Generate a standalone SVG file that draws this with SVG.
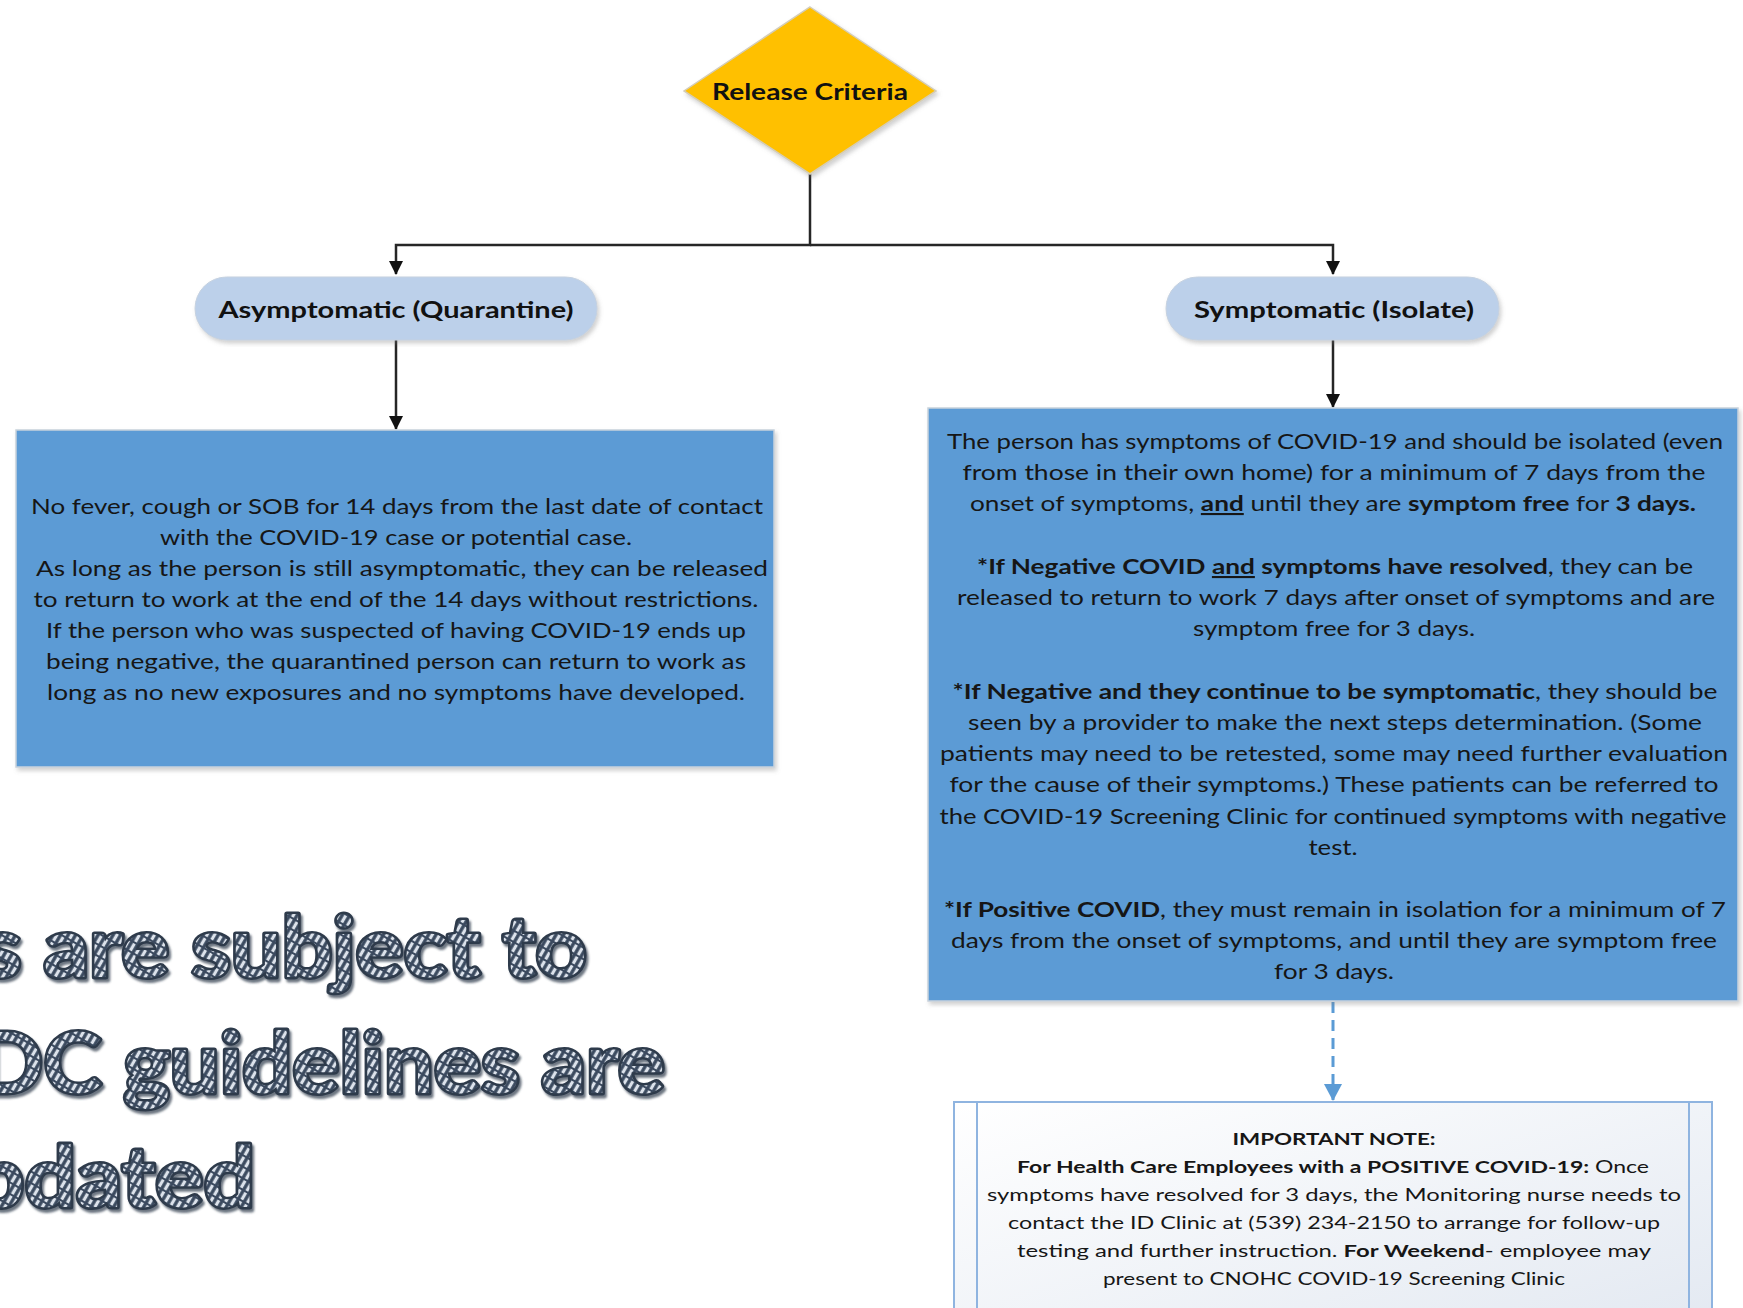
<svg xmlns="http://www.w3.org/2000/svg" width="1743" height="1308" viewBox="0 0 1743 1308">
  <defs>
    <style>
      .txt{font-family:Lato,"Liberation Sans",sans-serif;font-size:21px;fill:#161616}
      .note{font-size:17px}
      .b{font-weight:bold}
      .u{text-decoration:underline}
      .label{font-family:Lato,"Liberation Sans",sans-serif;font-weight:bold;font-size:23px;fill:#111111}
      .wire{fill:none;stroke:#262626;stroke-width:2.5}
      .dash{fill:none;stroke:#5B9BD5;stroke-width:3;stroke-dasharray:11 7}
      .box{fill:#5B9BD5;stroke:#C8D2DC;stroke-width:1.5}
      .pill{fill:#BCD0EA;stroke:#C5D1E0;stroke-width:1}
      .banner{font-family:Lato,"Liberation Sans",sans-serif;font-weight:bold;font-size:84px;fill:url(#weave);stroke:#2E3A4B;stroke-width:5;paint-order:stroke fill;stroke-linejoin:round}
    </style>
    <marker id="arrow" viewBox="0 0 14 14" refX="13" refY="7" markerWidth="14" markerHeight="14" markerUnits="userSpaceOnUse" orient="auto">
      <path d="M0,0 L14,7 L0,14 z" fill="#111111"/>
    </marker>
    <marker id="arrowBlue" viewBox="0 0 17 18" refX="16" refY="9" markerWidth="17" markerHeight="18" markerUnits="userSpaceOnUse" orient="auto">
      <path d="M0,0 L17,9 L0,18 z" fill="#5B9BD5"/>
    </marker>
    <!-- woven diagonal fill for the banner lettering -->
    <pattern id="weave" width="6.5" height="10" patternUnits="userSpaceOnUse" patternTransform="rotate(30)">
      <rect width="6.5" height="10" fill="#3A4A5E"/>
      <rect x="1.6" y="0" width="3.2" height="8" fill="#DCE2EB"/>
    </pattern>
    <linearGradient id="noteFill" x1="0" y1="0" x2="1" y2="1">
      <stop offset="0" stop-color="#FFFFFF"/>
      <stop offset="1" stop-color="#E2E8F1"/>
    </linearGradient>
    <filter id="shadow" x="-5%" y="-5%" width="112%" height="115%">
      <feDropShadow dx="2" dy="3" stdDeviation="2" flood-color="#7A7A7A" flood-opacity="0.35"/>
    </filter>
    <filter id="bannerShadow" x="-5%" y="-10%" width="110%" height="130%">
      <feDropShadow dx="2" dy="3" stdDeviation="1.2" flood-color="#2E3A4B" flood-opacity="0.7"/>
    </filter>
  </defs>

  <rect width="1743" height="1308" fill="#FFFFFF"/>

  <!-- connectors -->
  <g id="connectors">
    <path class="wire" d="M810,174 V245 H396 V274" marker-end="url(#arrow)"/>
    <path class="wire" d="M810,245 H1333 V274" marker-end="url(#arrow)"/>
    <path class="wire" d="M396,340 V429" marker-end="url(#arrow)"/>
    <path class="wire" d="M1333,340 V407" marker-end="url(#arrow)"/>
    <path class="dash" d="M1333,1002 V1100" marker-end="url(#arrowBlue)"/>
  </g>

  <!-- decision: release criteria -->
  <g id="release-criteria">
    <polygon points="810,7 936,91 810,174 684,91" fill="#FFC000" stroke="#D4CDB8" stroke-width="1.5" filter="url(#shadow)"/>
    <text class="label" x="810" y="100" text-anchor="middle" font-size="24" textLength="196" lengthAdjust="spacingAndGlyphs">Release Criteria</text>
  </g>

  <!-- branch: asymptomatic -->
  <g id="asymptomatic">
    <rect class="pill" x="195" y="277" width="402" height="63" rx="31.5" filter="url(#shadow)"/>
    <text class="label" x="396" y="318" text-anchor="middle" textLength="355" lengthAdjust="spacingAndGlyphs">Asymptomatic (Quarantine)</text>
  </g>

  <!-- branch: symptomatic -->
  <g id="symptomatic">
    <rect class="pill" x="1166" y="277" width="333" height="63" rx="31.5" filter="url(#shadow)"/>
    <text class="label" x="1334" y="318" text-anchor="middle" textLength="280" lengthAdjust="spacingAndGlyphs">Symptomatic (Isolate)</text>
  </g>

  <!-- quarantine release rule -->
  <g id="quarantine-rule">
    <rect class="box" x="16" y="430" width="758" height="337" filter="url(#shadow)"/>
    <g class="txt" text-anchor="middle">
      <text x="397" y="514" textLength="732" lengthAdjust="spacingAndGlyphs">No fever, cough or SOB for 14 days from the last date of contact</text>
      <text x="396" y="545" textLength="472" lengthAdjust="spacingAndGlyphs">with the COVID-19 case or potential case.</text>
      <text x="402" y="576" textLength="732" lengthAdjust="spacingAndGlyphs">As long as the person is still asymptomatic, they can be released</text>
      <text x="396" y="607" textLength="725" lengthAdjust="spacingAndGlyphs">to return to work at the end of the 14 days without restrictions.</text>
      <text x="396" y="638" textLength="700" lengthAdjust="spacingAndGlyphs">If the person who was suspected of having COVID-19 ends up</text>
      <text x="396" y="669" textLength="700" lengthAdjust="spacingAndGlyphs">being negative, the quarantined person can return to work as</text>
      <text x="396" y="700" textLength="698" lengthAdjust="spacingAndGlyphs">long as no new exposures and no symptoms have developed.</text>
    </g>
  </g>

  <!-- isolation release rule -->
  <g id="isolation-rule">
    <rect class="box" x="928" y="408" width="810" height="593" filter="url(#shadow)"/>
    <g class="txt" text-anchor="middle">
      <text x="1335" y="449" textLength="776" lengthAdjust="spacingAndGlyphs">The person has symptoms of COVID-19 and should be isolated (even</text>
      <text x="1334" y="480" textLength="743" lengthAdjust="spacingAndGlyphs">from those in their own home) for a minimum of 7 days from the</text>
      <text x="1333" y="511" textLength="726" lengthAdjust="spacingAndGlyphs">onset of symptoms, <tspan class="b u">and</tspan> until they are <tspan class="b">symptom free</tspan> for <tspan class="b">3 days.</tspan></text>

      <text x="1335" y="574" textLength="716" lengthAdjust="spacingAndGlyphs"><tspan class="b">*If Negative COVID </tspan><tspan class="b u">and</tspan><tspan class="b"> symptoms have resolved</tspan>, they can be</text>
      <text x="1336" y="605" textLength="758" lengthAdjust="spacingAndGlyphs">released to return to work 7 days after onset of symptoms and are</text>
      <text x="1334" y="636" textLength="282" lengthAdjust="spacingAndGlyphs">symptom free for 3 days.</text>

      <text x="1335" y="699" textLength="765" lengthAdjust="spacingAndGlyphs"><tspan class="b">*If Negative and they continue to be symptomatic</tspan>, they should be</text>
      <text x="1335" y="730" textLength="734" lengthAdjust="spacingAndGlyphs">seen by a provider to make the next steps determination. (Some</text>
      <text x="1334" y="761" textLength="788" lengthAdjust="spacingAndGlyphs">patients may need to be retested, some may need further evaluation</text>
      <text x="1334" y="792" textLength="769" lengthAdjust="spacingAndGlyphs">for the cause of their symptoms.) These patients can be referred to</text>
      <text x="1333" y="824" textLength="787" lengthAdjust="spacingAndGlyphs">the COVID-19 Screening Clinic for continued symptoms with negative</text>
      <text x="1333" y="855" textLength="49" lengthAdjust="spacingAndGlyphs">test.</text>

      <text x="1335" y="917" textLength="782" lengthAdjust="spacingAndGlyphs"><tspan class="b">*If Positive COVID</tspan>, they must remain in isolation for a minimum of 7</text>
      <text x="1334" y="948" textLength="766" lengthAdjust="spacingAndGlyphs">days from the onset of symptoms, and until they are symptom free</text>
      <text x="1334" y="979" textLength="120" lengthAdjust="spacingAndGlyphs">for 3 days.</text>
    </g>
  </g>

  <!-- note for health care employees -->
  <g id="important-note">
    <rect x="954" y="1102" width="758" height="240" fill="url(#noteFill)" stroke="#8FB4E0" stroke-width="2"/>
    <line x1="977" y1="1102" x2="977" y2="1342" stroke="#8FB4E0" stroke-width="2"/>
    <line x1="1689" y1="1102" x2="1689" y2="1342" stroke="#8FB4E0" stroke-width="2"/>
    <g class="txt note" text-anchor="middle">
      <text class="b" x="1334" y="1145" textLength="203" lengthAdjust="spacingAndGlyphs">IMPORTANT NOTE:</text>
      <text x="1333" y="1173" textLength="632" lengthAdjust="spacingAndGlyphs"><tspan class="b">For Health Care Employees with a POSITIVE COVID-19:</tspan> Once</text>
      <text x="1334" y="1201" textLength="694" lengthAdjust="spacingAndGlyphs">symptoms have resolved for 3 days, the Monitoring nurse needs to</text>
      <text x="1334" y="1229" textLength="652" lengthAdjust="spacingAndGlyphs">contact the ID Clinic at (539) 234-2150 to arrange for follow-up</text>
      <text x="1334" y="1257" textLength="634" lengthAdjust="spacingAndGlyphs">testing and further instruction. <tspan class="b">For Weekend</tspan>- employee may</text>
      <text x="1334" y="1285" textLength="462" lengthAdjust="spacingAndGlyphs">present to CNOHC COVID-19 Screening Clinic</text>
    </g>
  </g>

  <!-- banner text running off the left edge -->
  <g id="banner" filter="url(#bannerShadow)">
    <text class="banner" x="-18" y="977" textLength="605" lengthAdjust="spacingAndGlyphs">s are subject to</text>
    <text class="banner" x="-24" y="1093" textLength="689" lengthAdjust="spacingAndGlyphs">DC guidelines are</text>
    <text class="banner" x="-27" y="1207" textLength="282" lengthAdjust="spacingAndGlyphs">pdated</text>
  </g>
</svg>
